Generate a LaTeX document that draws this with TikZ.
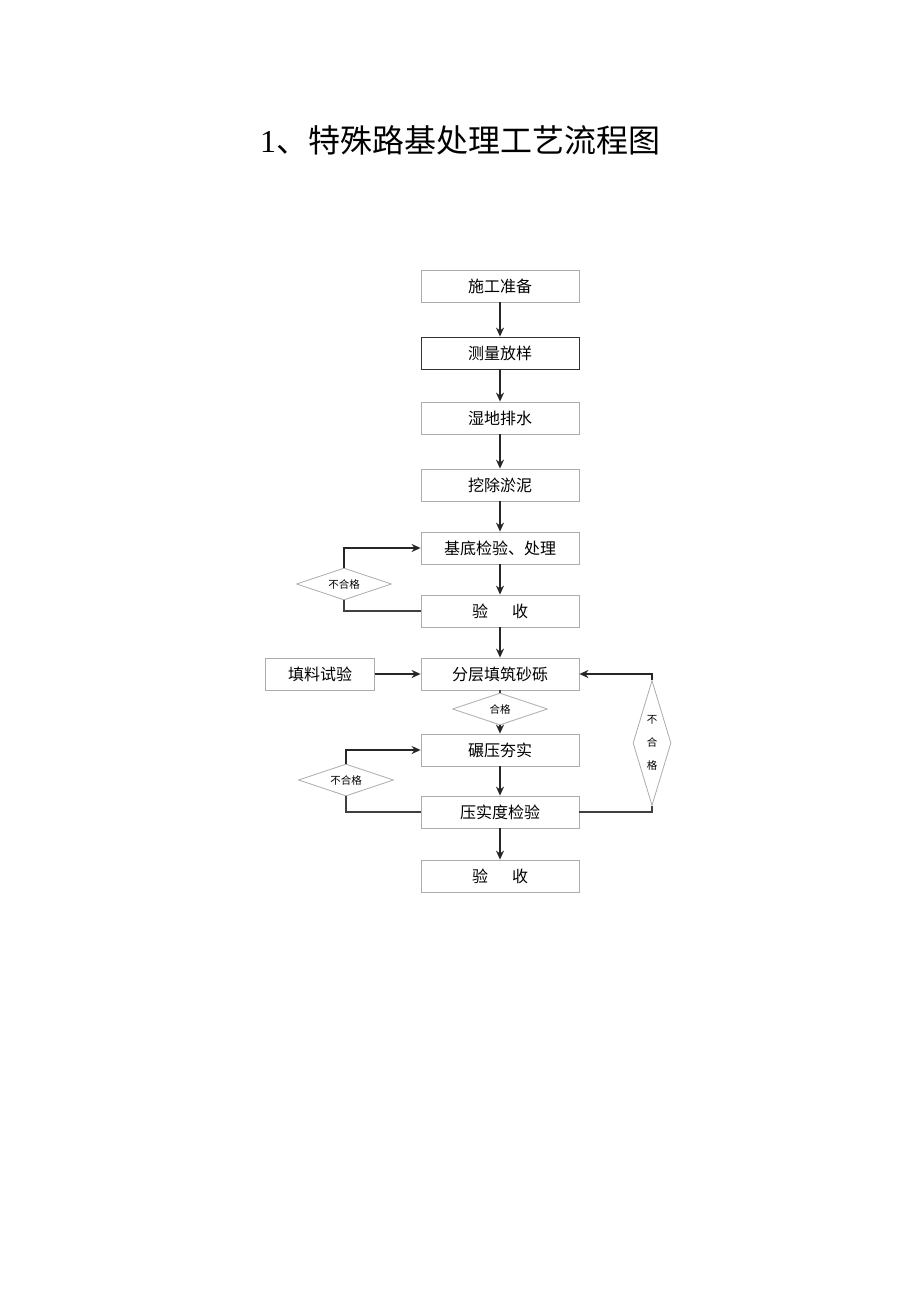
\documentclass[tikz,border=0pt]{standalone}
\usepackage{fontspec}
\setmainfont{Liberation Serif}
\newfontfamily\cjk{Noto Sans CJK SC}
\usetikzlibrary{shapes.geometric, arrows.meta, positioning, calc}

\begin{document}
\begin{tikzpicture}[x=1pt, y=-1pt,
  stepbox/.style={draw=gray!65, line width=0.8pt, fill=white, minimum width=158pt, minimum height=32pt, inner sep=0pt, font=\cjk\fontsize{16}{16}\selectfont},
  checkdia/.style={diamond, aspect=3, draw=gray!65, line width=0.8pt, fill=white, inner sep=0pt, minimum width=95pt, minimum height=32pt, font=\cjk\fontsize{10.5}{10.5}\selectfont},
  flow/.style={draw=black!85, line width=1.4pt, -{Stealth[length=9pt,width=8pt]}},
  back/.style={draw=black!75, line width=1.3pt}
]
  \useasboundingbox (0,0) rectangle (920,1301);

  % title
  \node (title) at (460,140) {\fontsize{32}{32}\selectfont 1{\cjk 、特殊路基处理工艺流程图}};

  % main column
  \node[stepbox] (prep) at (500,286) {施工准备};
  \node[stepbox, draw=black!80] (survey) at (500,353) {测量放样};
  \node[stepbox] (drain) at (500,418) {湿地排水};
  \node[stepbox] (dig) at (500,485) {挖除淤泥};
  \node[stepbox] (base) at (500,548) {基底检验、处理};
  \node[stepbox] (accept1) at (500,611) {验\hspace{1.5em}收};
  \node[stepbox] (layer) at (500,674) {分层填筑砂砾};
  \node[stepbox] (compact) at (500,750) {碾压夯实};
  \node[stepbox] (check) at (500,812) {压实度检验};
  \node[stepbox] (accept2) at (500,876) {验\hspace{1.5em}收};

  % side boxes and checks
  \node[stepbox, minimum width=109pt] (test) at (320,674) {填料试验};
  \node[checkdia] (pass) at (500,709) {合格};
  \node[checkdia] (fail1) at (344,584) {不合格};
  \node[checkdia] (fail2) at (346,780) {不合格};
  \node[checkdia, aspect=0.3, minimum width=38pt, minimum height=125pt, align=center,
        font=\cjk\fontsize{10.5}{23}\selectfont] (fail3) at (652,743) {不\\合\\格};

  % main flow
  \draw[flow] (prep) -- (survey);
  \draw[flow] (survey) -- (drain);
  \draw[flow] (drain) -- (dig);
  \draw[flow] (dig) -- (base);
  \draw[flow] (base) -- (accept1);
  \draw[flow] (accept1) -- (layer);
  \draw[back] (layer.south) -- (pass.north);
  \draw[flow] (pass.south) -- (compact.north);
  \draw[flow] (compact) -- (check);
  \draw[flow] (check) -- (accept2);
  \draw[flow] (test) -- (layer);

  % return loops
  \draw[back] (accept1.west) -| (fail1.south);
  \draw[flow] (fail1.north) |- (base.west);
  \draw[back] (check.west) -| (fail2.south);
  \draw[flow] (fail2.north) |- (compact.west);
  \draw[back] (check.east) -| (fail3.south);
  \draw[flow] (fail3.north) |- (layer.east);
\end{tikzpicture}
\end{document}
